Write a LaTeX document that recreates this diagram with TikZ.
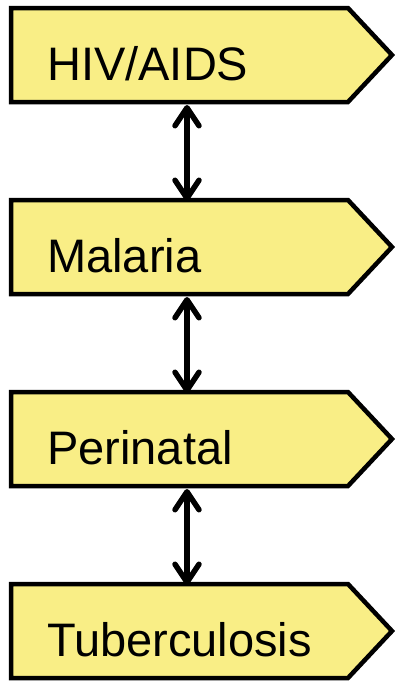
\documentclass[tikz,border=0pt]{standalone}
\usepackage{fontspec}
\setmainfont{Liberation Sans}
\usetikzlibrary{arrows.meta}
\definecolor{boxfill}{RGB}{249,238,134}
\tikzset{
  pentbox/.style={draw=black, fill=boxfill, line width=4.5pt, line join=miter},
  lbl/.style={anchor=base west, inner sep=0pt, font=\fontsize{47}{56}\selectfont},
  barb/.tip={Straight Barb[length=18pt,width=24pt,line width=5.5pt,line cap=round,line join=round]},
  link/.style={line width=5.5pt, barb-barb, shorten <=1pt, shorten >=1pt}
}
\begin{document}
\begin{tikzpicture}[x=1pt,y=-1pt]
\useasboundingbox (0,0) rectangle (395,681);
\foreach \i/\t in {0/HIV\slash AIDS,1/Malaria,2/Perinatal,3/Tuberculosis}{
  \pgfmathsetmacro{\top}{8+192*\i}
  \pgfmathsetmacro{\bot}{\top+94}
  \pgfmathsetmacro{\mid}{\top+47}
  \draw[pentbox] (11,\top) -- (348,\top) -- (392,\mid) -- (348,\bot) -- (11,\bot) -- cycle;
  \node[lbl] (t\i) at (47,\mid+25) {\t};
  \coordinate (top\i) at (187,\top+2);
  \coordinate (bot\i) at (187,\bot+2);
}
\draw[link] (bot0) -- (top1);
\draw[link] (bot1) -- (top2);
\draw[link] (bot2) -- (top3);
\end{tikzpicture}
\end{document}
